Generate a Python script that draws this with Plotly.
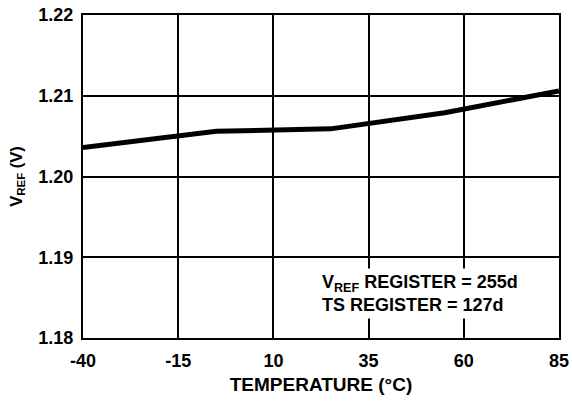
import plotly.graph_objects as go

temperature = [-40, -5, 25, 55, 85]
vref = [1.2036, 1.2056, 1.2059, 1.2079, 1.2106]
x_ticks = [-40, -15, 10, 35, 60, 85]
y_ticks = [1.18, 1.19, 1.20, 1.21, 1.22]
y_tick_labels = ["1.18", "1.19", "1.20", "1.21", "1.22"]

FONT = "Liberation Sans, Arial, sans-serif"
FS_TICK = 18
FS_XT = 19
FS_YT = 16.5
FS_ANN = 18

fig = go.Figure()
fig.add_trace(go.Scatter(x=temperature, y=vref, mode="lines",
                         line=dict(color="black", width=5), showlegend=False))

fig.add_annotation(
    x=21.6, y=1.1855, xref="x", yref="y", xanchor="left", yanchor="middle",
    text="<b>V<sub>REF</sub> REGISTER = 255d<br>TS REGISTER = 127d</b>",
    showarrow=False, align="left", bgcolor="white", borderpad=3,
    font=dict(family=FONT, size=FS_ANN, color="black"),
)

fig.update_layout(
    width=572, height=404,
    margin=dict(l=83, r=13, t=15, b=66),
    plot_bgcolor="white", paper_bgcolor="white",
    font=dict(family=FONT, size=FS_TICK, color="black"),
    xaxis=dict(
        range=[-40, 85], tickvals=x_ticks, ticktext=[str(t) for t in x_ticks],
        showgrid=True, gridcolor="black", gridwidth=2,
        showline=True, linecolor="black", linewidth=2, mirror=True,
        zeroline=False, ticks="", ticklabelstandoff=5, automargin=False,
        tickfont=dict(family=FONT, size=FS_TICK, color="black", weight="bold"),
        title=dict(text="<b>TEMPERATURE (°C)</b>", standoff=8,
                   font=dict(family=FONT, size=FS_XT, color="black")),
    ),
    yaxis=dict(
        range=[1.18, 1.22], tickvals=y_ticks, ticktext=y_tick_labels,
        showgrid=True, gridcolor="black", gridwidth=2,
        showline=True, linecolor="black", linewidth=2, mirror=True,
        zeroline=False, ticks="", ticklabelstandoff=4, automargin=False,
        tickfont=dict(family=FONT, size=FS_TICK, color="black", weight="bold"),
        title=dict(text="<b>V<sub>REF</sub> (V)</b>", standoff=12,
                   font=dict(family=FONT, size=FS_YT, color="black")),
    ),
)

fig.write_html("out.html", config={"displayModeBar": False},
               post_script="document.body.style.margin='0';")
